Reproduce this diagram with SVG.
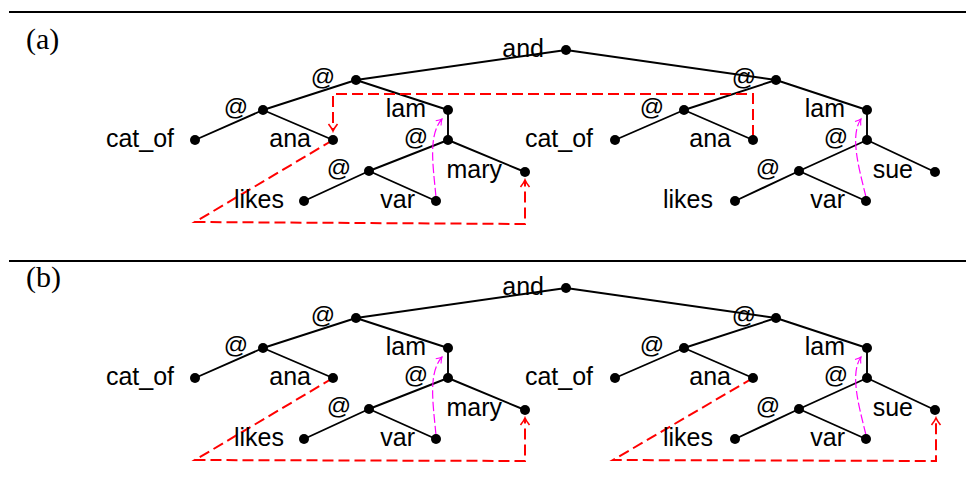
<svg xmlns="http://www.w3.org/2000/svg" width="966" height="493" viewBox="0 0 966 493">
<style>
.bg{fill:#fff}
.rule{stroke:#000;stroke-width:2}
.e{stroke:#000;stroke-width:1.9;fill:none}
.d{fill:#000}
.t{font-family:"Liberation Sans",Arial,sans-serif;font-size:25px;fill:#000;text-anchor:end}
.at{font-family:"Liberation Sans",Arial,sans-serif;font-size:24px;fill:#000;text-anchor:end}
.p{font-family:"Liberation Serif","Times New Roman",serif;font-size:30px;fill:#000}
.red{stroke:#f00;stroke-width:2;fill:none;stroke-dasharray:11 5}
.mag{stroke:#f0f;stroke-width:1.2;fill:none;stroke-dasharray:9 3}
</style>
<defs>
<marker id="ar" markerUnits="userSpaceOnUse" viewBox="-8 -6 10 12" refX="0" refY="0" markerWidth="10" markerHeight="12" orient="auto" overflow="visible">
<path d="M-7,-4.5 Q-2.5,-1 0,0 Q-2.5,1 -7,4.5" stroke="#f00" stroke-width="1.6" fill="none"/>
</marker>
<marker id="am" markerUnits="userSpaceOnUse" viewBox="-8 -6 10 12" refX="0" refY="0" markerWidth="10" markerHeight="12" orient="auto" overflow="visible">
<path d="M-5.5,-3.5 Q-2,-0.8 0,0 Q-2,0.8 -5.5,3.5" stroke="#f0f" stroke-width="1.1" fill="none"/>
</marker>
</defs>
<rect class="bg" x="0" y="0" width="966" height="493"/>
<line class="rule" x1="9" y1="12" x2="966" y2="12"/>
<line class="rule" x1="9" y1="261" x2="966" y2="261"/>
<text class="p" x="26" y="49">(a)</text>
<text class="p" x="26" y="287">(b)</text>

<!-- panel (a) -->
<g id="panel-a">
<g id="a-connectors">
<path class="e" d="M566,50 L356,80 M566,50 L776,80 M356,80 L263,110 M356,80 L448,110 M263,110 L195,140 M263,110 L333,140 M448,110 L448,140 M448,140 L369,171 M448,140 L525,172 M369,171 L304,201 M369,171 L436,201"/>
<path class="e" d="M776,80 L684,110 M776,80 L867,110 M684,110 L615,140 M684,110 L753,140 M867,110 L867,140 M867,140 L799,171 M867,140 L935,172 M799,171 L735,201 M799,171 L866,201"/>
<path class="red" d="M753,136 V94 H333 V131" marker-end="url(#ar)"/>
<path class="red" d="M333,140 L195,222 L525,224 V180" marker-end="url(#ar)"/>
<path class="mag" d="M436,197 C433,165 428,135 442,119" marker-end="url(#am)"/>
<path class="mag" d="M866,197 C858,165 850,135 861,119" marker-end="url(#am)"/>
</g>
<g id="a-and"><circle class="d" cx="566" cy="50" r="5"/><text class="t" x="544" y="57">and</text></g>
<g id="a-app1"><circle class="d" cx="356" cy="80" r="5"/><text class="at" x="335" y="85">@</text></g>
<g id="a-app2"><circle class="d" cx="263" cy="110" r="5"/><text class="at" x="248" y="115">@</text></g>
<g id="a-catof1"><circle class="d" cx="195" cy="140" r="5"/><text class="t" x="174" y="147">cat_of</text></g>
<g id="a-ana1"><circle class="d" cx="333" cy="140" r="5"/><text class="t" x="311" y="147">ana</text></g>
<g id="a-lam1"><circle class="d" cx="448" cy="110" r="5"/><text class="t" x="426" y="117">lam</text></g>
<g id="a-app3"><circle class="d" cx="448" cy="140" r="5"/><text class="at" x="428" y="145">@</text></g>
<g id="a-app4"><circle class="d" cx="369" cy="171" r="5"/><text class="at" x="351" y="176">@</text></g>
<g id="a-likes1"><circle class="d" cx="304" cy="201" r="5"/><text class="t" x="284" y="208">likes</text></g>
<g id="a-var1"><circle class="d" cx="436" cy="201" r="5"/><text class="t" x="415" y="208">var</text></g>
<g id="a-mary"><circle class="d" cx="525" cy="172" r="5"/><text class="t" x="502" y="178">mary</text></g>
<g id="a-app5"><circle class="d" cx="776" cy="80" r="5"/><text class="at" x="756" y="85">@</text></g>
<g id="a-app6"><circle class="d" cx="684" cy="110" r="5"/><text class="at" x="664" y="115">@</text></g>
<g id="a-catof2"><circle class="d" cx="615" cy="140" r="5"/><text class="t" x="593" y="147">cat_of</text></g>
<g id="a-ana2"><circle class="d" cx="753" cy="140" r="5"/><text class="t" x="731" y="147">ana</text></g>
<g id="a-lam2"><circle class="d" cx="867" cy="110" r="5"/><text class="t" x="845" y="117">lam</text></g>
<g id="a-app7"><circle class="d" cx="867" cy="140" r="5"/><text class="at" x="848" y="145">@</text></g>
<g id="a-app8"><circle class="d" cx="799" cy="171" r="5"/><text class="at" x="780" y="176">@</text></g>
<g id="a-likes2"><circle class="d" cx="735" cy="201" r="5"/><text class="t" x="713" y="208">likes</text></g>
<g id="a-var2"><circle class="d" cx="866" cy="201" r="5"/><text class="t" x="845" y="208">var</text></g>
<g id="a-sue"><circle class="d" cx="935" cy="172" r="5"/><text class="t" x="913" y="178">sue</text></g>
</g>

<!-- panel (b) -->
<g id="panel-b" transform="translate(0,238)">
<g id="b-connectors">
<path class="e" d="M566,50 L356,80 M566,50 L776,80 M356,80 L263,110 M356,80 L448,110 M263,110 L195,140 M263,110 L333,140 M448,110 L448,140 M448,140 L369,171 M448,140 L525,172 M369,171 L304,201 M369,171 L436,201"/>
<path class="e" d="M776,80 L684,110 M776,80 L867,110 M684,110 L615,140 M684,110 L753,140 M867,110 L867,140 M867,140 L799,171 M867,140 L935,172 M799,171 L735,201 M799,171 L866,201"/>
<path class="red" d="M333,140 L195,222 L525,223 V180" marker-end="url(#ar)"/>
<path class="red" d="M753,140 L613,222 L936,223 V180" marker-end="url(#ar)"/>
<path class="mag" d="M436,197 C433,165 428,135 442,119" marker-end="url(#am)"/>
<path class="mag" d="M866,197 C858,165 850,135 861,119" marker-end="url(#am)"/>
</g>
<g id="b-and"><circle class="d" cx="566" cy="50" r="5"/><text class="t" x="544" y="57">and</text></g>
<g id="b-app1"><circle class="d" cx="356" cy="80" r="5"/><text class="at" x="335" y="85">@</text></g>
<g id="b-app2"><circle class="d" cx="263" cy="110" r="5"/><text class="at" x="248" y="115">@</text></g>
<g id="b-catof1"><circle class="d" cx="195" cy="140" r="5"/><text class="t" x="174" y="147">cat_of</text></g>
<g id="b-ana1"><circle class="d" cx="333" cy="140" r="5"/><text class="t" x="311" y="147">ana</text></g>
<g id="b-lam1"><circle class="d" cx="448" cy="110" r="5"/><text class="t" x="426" y="117">lam</text></g>
<g id="b-app3"><circle class="d" cx="448" cy="140" r="5"/><text class="at" x="428" y="145">@</text></g>
<g id="b-app4"><circle class="d" cx="369" cy="171" r="5"/><text class="at" x="351" y="176">@</text></g>
<g id="b-likes1"><circle class="d" cx="304" cy="201" r="5"/><text class="t" x="284" y="208">likes</text></g>
<g id="b-var1"><circle class="d" cx="436" cy="201" r="5"/><text class="t" x="415" y="208">var</text></g>
<g id="b-mary"><circle class="d" cx="525" cy="172" r="5"/><text class="t" x="502" y="178">mary</text></g>
<g id="b-app5"><circle class="d" cx="776" cy="80" r="5"/><text class="at" x="756" y="85">@</text></g>
<g id="b-app6"><circle class="d" cx="684" cy="110" r="5"/><text class="at" x="664" y="115">@</text></g>
<g id="b-catof2"><circle class="d" cx="615" cy="140" r="5"/><text class="t" x="593" y="147">cat_of</text></g>
<g id="b-ana2"><circle class="d" cx="753" cy="140" r="5"/><text class="t" x="731" y="147">ana</text></g>
<g id="b-lam2"><circle class="d" cx="867" cy="110" r="5"/><text class="t" x="845" y="117">lam</text></g>
<g id="b-app7"><circle class="d" cx="867" cy="140" r="5"/><text class="at" x="848" y="145">@</text></g>
<g id="b-app8"><circle class="d" cx="799" cy="171" r="5"/><text class="at" x="780" y="176">@</text></g>
<g id="b-likes2"><circle class="d" cx="735" cy="201" r="5"/><text class="t" x="713" y="208">likes</text></g>
<g id="b-var2"><circle class="d" cx="866" cy="201" r="5"/><text class="t" x="845" y="208">var</text></g>
<g id="b-sue"><circle class="d" cx="935" cy="172" r="5"/><text class="t" x="913" y="178">sue</text></g>
</g>
</svg>
